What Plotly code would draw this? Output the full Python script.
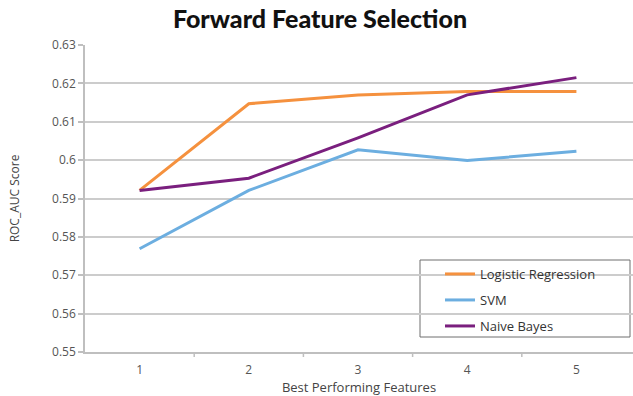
import plotly.graph_objects as go

features = [1, 2, 3, 4, 5]
logistic = [0.5921, 0.6147, 0.6170, 0.6179, 0.6179]
svm = [0.5769, 0.5921, 0.6027, 0.5999, 0.6023]
naive_bayes = [0.5921, 0.5953, 0.6058, 0.6170, 0.6215]
y_ticks = [0.55, 0.56, 0.57, 0.58, 0.59, 0.60, 0.61, 0.62, 0.63]
y_tick_labels = ["0.55", "0.56", "0.57", "0.58", "0.59", "0.6", "0.61", "0.62", "0.63"]

series = [
    ("Logistic Regression", logistic, "#F5913E", "legend"),
    ("SVM", svm, "#6CAEE0", "legend2"),
    ("Naive Bayes", naive_bayes, "#7A1F7E", "legend3"),
]

fig = go.Figure()
for name, vals, color, lg in series:
    fig.add_trace(go.Scatter(x=features, y=vals, mode="lines", name=name,
                             line=dict(color=color, width=3), legend=lg, showlegend=True))

W, H = 633, 396
L, R, T, B = 85, 0, 45, 44
pw = W - L - R
ph = H - T - B

def px_x(x):
    return (x - L) / pw

def px_y(y):
    return (H - B - y) / ph

FONT = "Open Sans, Lato, sans-serif"
leg_font = dict(family=FONT, size=13, color="#333333")
common_leg = dict(x=px_x(440), xanchor="left", yanchor="middle", bgcolor="rgba(0,0,0,0)",
                  borderwidth=0, font=leg_font, itemwidth=30, visible=True)
fig.update_layout(
    width=W, height=H,
    showlegend=True,
    margin=dict(l=L, r=R, t=T, b=B),
    paper_bgcolor="white", plot_bgcolor="white",
    title=dict(text="Forward Feature Selection", xref="container", x=320 / W, xanchor="center",
               yref="container", y=1 - 19 / H, yanchor="middle",
               font=dict(family="Lato, Open Sans, sans-serif", size=25, weight=900, color="#111111")),
    xaxis=dict(range=[0.5, 5.5 + 2 / 110], tickmode="array", tickvals=features,
               ticktext=[str(f) for f in features], showgrid=False,
               showline=True, linecolor="#BFBFBF", linewidth=1.5,
               ticks="", ticklabelstandoff=6,
               tickfont=dict(family=FONT, size=12, color="#555555"),
               title=dict(text="Best Performing Features", standoff=2,
                          font=dict(family=FONT, size=13, color="#444444")),
               zeroline=False, fixedrange=True),
    yaxis=dict(range=[0.55, 0.63], tickmode="array", tickvals=y_ticks, ticktext=y_tick_labels,
               showgrid=True, gridcolor="#CCCCCC", gridwidth=1.5,
               showline=True, linecolor="#BFBFBF", linewidth=1.5,
               ticks="outside", ticklen=5, tickcolor="#BFBFBF", tickwidth=1.5,
               tickfont=dict(family=FONT, size=12, color="#555555"),
               title=dict(text="ROC_AUC Score", standoff=30,
                          font=dict(family=FONT, size=12, color="#444444")),
               zeroline=False, fixedrange=True),
    legend=dict(y=px_y(274), **common_leg),
    legend2=dict(y=px_y(300), **common_leg),
    legend3=dict(y=px_y(326), **common_leg),
    shapes=[
        dict(type="rect", xref="paper", yref="paper", x0=px_x(420), x1=px_x(630),
             y0=px_y(337), y1=px_y(260), line=dict(color="#6E6E6E", width=1),
             fillcolor="white", layer="below"),
    ],
)
# x-axis tick marks between categories
for xv in [1.5, 2.5, 3.5, 4.5]:
    fig.add_shape(type="line", xref="x", yref="paper", x0=xv, x1=xv, y0=0, y1=-5 / ph,
                  line=dict(color="#BFBFBF", width=1.5))

fig.write_html("out.html", config={"displayModeBar": False},
               post_script="document.body.style.margin='0';document.body.style.padding='0';")
